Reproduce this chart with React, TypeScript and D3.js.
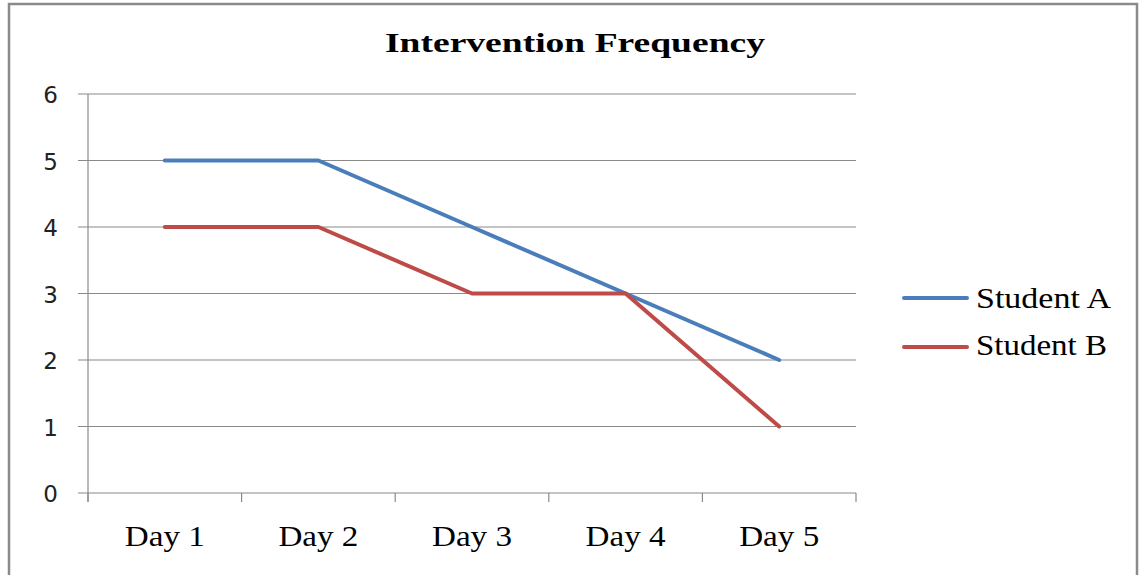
import React from "react";
import * as d3 from "d3";

const categories = ["Day 1", "Day 2", "Day 3", "Day 4", "Day 5"];
const studentA = [5, 5, 4, 3, 2];
const studentB = [4, 4, 3, 3, 1];
const yTicks = [0, 1, 2, 3, 4, 5, 6];
const seriesNames = ["Student A", "Student B"];
const seriesColors = ["#4a7ebb", "#be4b48"];

export default function App() {
  const W = 1146;
  const H = 575;
  const left = 88;
  const right = 856;
  const top = 94;
  const bottom = 493;

  const x = d3.scaleBand<string>().domain(categories).range([left, right]).paddingInner(0).paddingOuter(0);
  const y = d3.scaleLinear().domain([0, 6]).range([bottom, top]);
  const line = d3
    .line<number>()
    .x((_, i) => (x(categories[i]) as number) + x.bandwidth() / 2)
    .y((d) => y(d));

  const series = [studentA, studentB];
  const boundaries = categories.map((c) => x(c) as number).concat([right]);

  return (
    <svg
      width={W}
      height={H}
      style={{ position: "absolute", left: 0, top: 0, background: "#fff" }}
    >
      <rect x={9} y={4} width={1128} height={600} fill="#fff" stroke="#8a8a8a" strokeWidth={2.5} />
      <text
        x={575}
        y={52}
        textAnchor="middle"
        fontFamily="'Liberation Serif', 'Times New Roman', serif"
        fontWeight="bold"
        fontSize={28}
        textLength={380}
        lengthAdjust="spacingAndGlyphs"
        fill="#000"
      >
        Intervention Frequency
      </text>
      {yTicks.map((t) => (
        <g key={t}>
          <line x1={78} x2={right} y1={y(t)} y2={y(t)} stroke="#8a8a8a" strokeWidth={1.2} />
          <text
            x={58}
            y={y(t) + 9}
            textAnchor="end"
            fontFamily="'DejaVu Sans', sans-serif"
            fontSize={23}
            fill="#222"
          >
            {t}
          </text>
        </g>
      ))}
      <line x1={left} x2={left} y1={top} y2={bottom + 9} stroke="#8a8a8a" strokeWidth={1.2} />
      {boundaries.map((b, i) => (
        <line key={i} x1={b} x2={b} y1={bottom} y2={bottom + 9} stroke="#8a8a8a" strokeWidth={1.2} />
      ))}
      {categories.map((c) => (
        <text
          key={c}
          x={(x(c) as number) + x.bandwidth() / 2}
          y={546}
          textAnchor="middle"
          fontFamily="'Liberation Serif', 'Times New Roman', serif"
          fontSize={30}
          textLength={80}
          lengthAdjust="spacingAndGlyphs"
          fill="#000"
        >
          {c}
        </text>
      ))}
      {series.map((s, i) => (
        <path
          key={i}
          d={line(s) as string}
          fill="none"
          stroke={seriesColors[i]}
          strokeWidth={4}
          strokeLinecap="round"
          strokeLinejoin="round"
        />
      ))}
      {seriesNames.map((n, i) => (
        <g key={n}>
          <line
            x1={904}
            x2={967}
            y1={298 + i * 49}
            y2={298 + i * 49}
            stroke={seriesColors[i]}
            strokeWidth={4}
            strokeLinecap="round"
          />
          <text
            x={976}
            y={308 + i * 47}
            fontFamily="'Liberation Serif', 'Times New Roman', serif"
            fontSize={29}
            textLength={i === 0 ? 135 : 131}
            lengthAdjust="spacingAndGlyphs"
            fill="#000"
          >
            {n}
          </text>
        </g>
      ))}
    </svg>
  );
}
